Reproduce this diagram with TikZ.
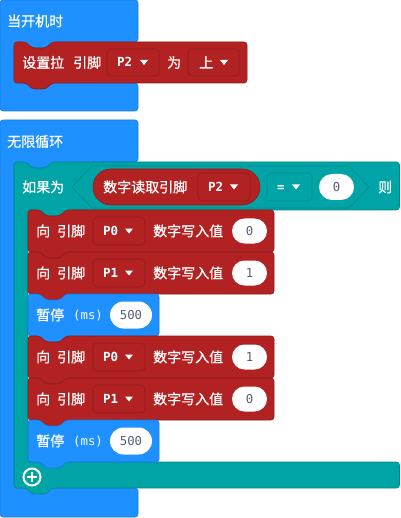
\documentclass[tikz,border=0pt]{standalone}
\usepackage{fontspec}
\newfontfamily\cjk[FakeBold=0.8]{Noto Sans CJK SC}
\newfontfamily\monof{DejaVu Sans Mono}
\definecolor{basic}{HTML}{1E90FF}
\definecolor{basicD}{HTML}{1A7BDB}
\definecolor{pin}{HTML}{B22222}
\definecolor{pinD}{HTML}{8E1B1B}
\definecolor{logic}{HTML}{00A4A6}
\definecolor{logicD}{HTML}{00898B}
\definecolor{valtxt}{HTML}{575E75}
\newcommand\stmtblk[6]{%
 \draw[blk,fill=#5,draw=#6] (#1,#2) -- ({#1+12},{#2}) -- ({#1+18},{#2+6}) -- ({#1+32},{#2+6}) -- ({#1+38},{#2}) -- (#3,{#2}) -- (#3,{#4}) -- ({#1+38},{#4}) -- ({#1+32},{#4+6}) -- ({#1+18},{#4+6}) -- ({#1+12},{#4}) -- (#1,{#4}) -- cycle;}
\newcommand\ddarrow[2]{\fill[white] (#1,{#2-2.5}) -- ({#1+8},{#2-2.5}) -- ({#1+4},{#2+2.5}) -- cycle;}
\newcommand\writerow[4]{%
 \stmtblk{28}{#1}{274}{#1+42}{pin}{pinD}
 \node[cn] (#4a) at (36,{#1+26.3}) {向\hspace{7pt}引脚};
 \draw[ddbox,fill=pin,draw=pinD] (93,{#1+7}) rectangle (145,{#1+35});
 \node[mnb] (#4p) at (103,{#1+25.5}) {#2};
 \ddarrow{125}{#1+21}
 \node[cn] (#4b) at (153,{#1+26.3}) {数字写入值};
 \fill[white,rounded corners=12.5pt] (232,{#1+8.5}) rectangle (267,{#1+33.5});
 \node[val] (#4v) at (249.5,{#1+25.5}) {#3};}
\newcommand\pauserow[2]{%
 \stmtblk{28}{#1}{159}{#1+42}{basic}{basicD}
 \node[cn] (#2a) at (36,{#1+26.3}) {暂停};
 \node[mn] (#2b) at (73,{#1+25.5}) {(ms)};
 \fill[white,rounded corners=13.5pt] (110,{#1+7.5}) rectangle (152,{#1+34.5});
 \node[val] (#2v) at (131,{#1+25.5}) {500};}
\begin{document}
\begin{tikzpicture}[x=1pt,y=-1pt,
 blk/.style={line width=0.6pt, rounded corners=3pt, line join=round},
 cn/.style={font=\cjk\fontsize{14}{14}\selectfont, text=white, inner sep=0pt, anchor=base west},
 mn/.style={font=\monof\fontsize{12.3}{12.3}\selectfont, text=white, inner sep=0pt, anchor=base west},
 mnb/.style={mn, font=\monof\bfseries\fontsize{12.5}{12.5}\selectfont},
 val/.style={font=\monof\fontsize{12.3}{12.3}\selectfont, text=valtxt, inner sep=0pt, anchor=base},
 ddbox/.style={line width=0.6pt, rounded corners=4pt}]
\useasboundingbox (0,0) rectangle (400,518);
% on start
\draw[blk,fill=basic,draw=basicD] (0,0) -- (138,0) -- (138,42) -- (52,42) -- (46,48) -- (32,48) -- (26,42) -- (14,42) -- (14,83) -- (138,83) -- (138,111) -- (0,111) -- cycle;
\node[cn] (t1) at (7,26.3) {当开机时};
\stmtblk{14}{42}{247}{83}{pin}{pinD}
\node[cn] (t2) at (22,67.8) {设置拉\hspace{9pt}引脚};
\draw[ddbox,fill=pin,draw=pinD] (107,49) rectangle (159,76);
\node[mnb] (p2a) at (117,67) {P2};
\ddarrow{140}{62.5}
\node[cn] (wei) at (167,67.8) {为};
\draw[ddbox,fill=pin,draw=pinD] (188,49) rectangle (239,76);
\node[cn] (shang) at (199,67.8) {上};
\ddarrow{220}{62.5}
% forever
\draw[blk,fill=basic,draw=basicD] (0,120) -- (138,120) -- (138,162) -- (52,162) -- (46,168) -- (32,168) -- (26,162) -- (14,162) -- (14,488) -- (138,488) -- (138,517) -- (0,517) -- cycle;
\node[cn] (t3) at (7,146.8) {无限循环};
% if
\draw[blk,fill=logic,draw=logicD] (14,162) -- (26,162) -- (32,168) -- (46,168) -- (52,162) -- (399.5,162) -- (399.5,210) -- (66,210) -- (60,216) -- (46,216) -- (40,210) -- (28,210) -- (28,462) -- (399.5,462) -- (399.5,488) -- (52,488) -- (46,494) -- (32,494) -- (26,488) -- (14,488) -- cycle;
\node[cn] (t4) at (22,192.3) {如果为};
\draw[fill=logic,draw=logicD,line width=0.6pt,line join=round] (72,187) -- (92,166) -- (349,166) -- (369,187) -- (349,208) -- (92,208) -- cycle;
\draw[fill=pin,draw=pinD,line width=0.6pt,rounded corners=18pt] (93,169) rectangle (260,205);
\node[cn] (t5) at (103,192.3) {数字读取引脚};
\draw[ddbox,fill=pin,draw=pinD] (198,173) rectangle (250,201);
\node[mnb] (p2b) at (208,191.5) {P2};
\ddarrow{230}{187}
\draw[ddbox,fill=logic,draw=logicD] (267,173) rectangle (312,201);
\node[mnb] (eq) at (277,191.5) {=};
\ddarrow{292}{187}
\fill[white,rounded corners=13pt] (319,174) rectangle (354,200);
\node[val] (v0) at (336.5,191.5) {0};
\node[cn] (ze) at (378,192.3) {则};
% body
\writerow{210}{P0}{0}{ra}
\writerow{252}{P1}{1}{rb}
\pauserow{294}{pa}
\writerow{336}{P0}{1}{rc}
\writerow{378}{P1}{0}{rd}
\pauserow{420}{pb}
% plus
\draw[white,line width=2pt] (32,477) circle[radius=8.5pt];
\draw[white,line width=2.6pt] (27,477) -- (37,477) (32,472) -- (32,482);
\end{tikzpicture}
\end{document}
